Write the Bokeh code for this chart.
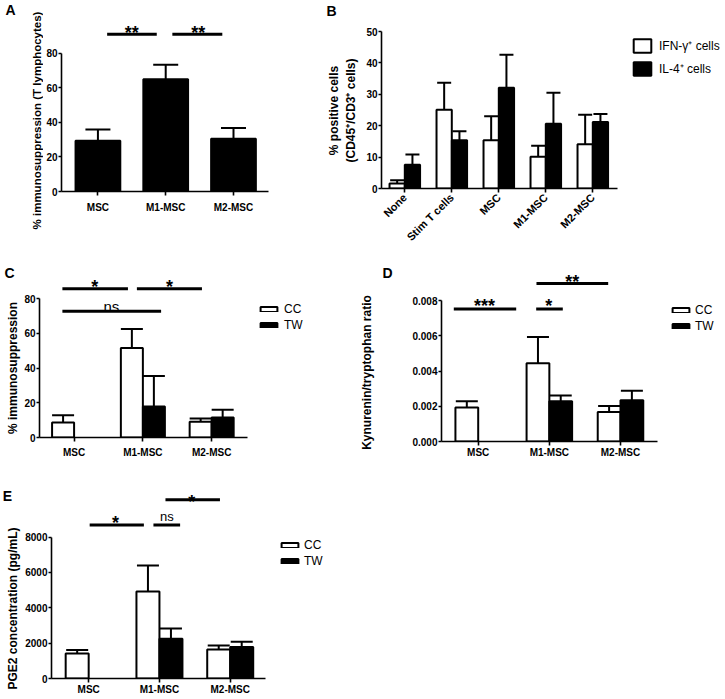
import numpy as np
from bokeh.plotting import figure
from bokeh.models import (Range1d, FixedTicker, NumeralTickFormatter, Legend,
                          LegendItem, Whisker, TeeHead, ColumnDataSource)
from bokeh.layouts import column, row
from bokeh.embed import file_html
from bokeh.resources import INLINE
from bokeh.core.properties import value

# ---------------- data ----------------
A_categories = ["MSC", "M1-MSC", "M2-MSC"]
A_mean = [29.3, 65.0, 30.5]
A_sem = [6.6, 8.3, 6.3]

B_categories = ["None", "Stim T cells", "MSC", "M1-MSC", "M2-MSC"]
B_series = ["IFN-γ⁺ cells", "IL-4⁺ cells"]
B_ifn_mean = [1.6, 25.1, 15.4, 10.1, 14.1]
B_ifn_sem = [1.0, 8.6, 7.6, 3.5, 9.4]
B_il4_mean = [7.6, 15.4, 32.1, 20.6, 21.2]
B_il4_sem = [3.2, 2.8, 10.5, 9.9, 2.5]

CDE_categories = ["MSC", "M1-MSC", "M2-MSC"]
CDE_series = ["CC", "TW"]

C_cc_mean = [8.7, 51.6, 9.1]
C_cc_sem = [4.2, 11.0, 1.9]
C_tw_mean = [np.nan, 17.9, 11.6]
C_tw_sem = [np.nan, 17.6, 4.4]

D_cc_mean = [0.00193, 0.00445, 0.00168]
D_cc_sem = [0.00035, 0.00149, 0.00034]
D_tw_mean = [np.nan, 0.00228, 0.00234]
D_tw_sem = [np.nan, 0.00034, 0.00054]

E_cc_mean = [1420, 4916, 1645]
E_cc_sem = [187, 1477, 224]
E_tw_mean = [np.nan, 2243, 1776]
E_tw_sem = [np.nan, 579, 299]

A_yticks = [0, 20, 40, 60, 80]
B_yticks = [0, 10, 20, 30, 40, 50]
C_yticks = [0, 20, 40, 60, 80]
D_yticks = [0, 0.002, 0.004, 0.006, 0.008]
E_yticks = [0, 2000, 4000, 6000, 8000]

# significance annotations: (x0, x1, y) lines and (x, y, text) labels, data units
A_sig_lines = [(0.136, 0.868, 91.0), (1.098, 1.835, 91.0)]
A_sig_text = [(0.498, 91.7, "**"), (1.479, 91.7, "**")]
C_sig_lines = [(-0.170, 0.783, 85.8), (0.913, 1.859, 85.8), (-0.170, 1.265, 72.85)]
C_sig_text = [(0.299, 86.9, "*"), (1.386, 86.9, "*")]
C_ns_text = [(0.541, 75.8, "ns")]
D_sig_lines = [(-0.343, 0.534, 0.007533), (0.815, 1.189, 0.007533), (0.819, 1.827, 0.008978)]
D_sig_text = [(0.0885, 0.00768, "***"), (0.992, 0.00768, "*"), (1.321, 0.009051, "**")]
E_sig_lines = [(0.014, 0.780, 8689), (0.915, 1.292, 8689), (1.085, 1.855, 10113)]
E_sig_text = [(0.380, 8818, "*"), (1.456, 9979, "*")]
E_ns_text = [(1.104, 9166, "ns")]

FONT = "Liberation Sans"


def make_panel(fx, fy, W, H, fl, fb, px0, sx, sy, x_axis_end_px, y_bound_top,
               cats, yticks, label_standoff=3, yfmt=None, orient=None, xlab_size="10px"):
    """fx,fy: figure origin (page px); fl: frame left; fb: frame bottom (y = 0)."""
    L = fl - fx
    B = fy + H - fb
    xr = ((fl - px0) / sx, (fx + W - px0) / sx)
    yr = (0, (fb - fy) / sy)
    p = figure(width=W, height=H, x_range=Range1d(*xr), y_range=Range1d(*yr),
               min_border_left=L, min_border_right=0, min_border_top=0,
               min_border_bottom=B, output_backend="svg", toolbar_location=None,
               frame_align=False)
    p.grid.visible = False
    p.outline_line_color = None
    p.background_fill_color = "white"
    p.border_fill_color = "white"
    ticks = list(range(len(cats)))
    p.xaxis.ticker = FixedTicker(ticks=ticks)
    p.xaxis.major_label_overrides = {t: c for t, c in zip(ticks, cats)}
    p.xaxis.bounds = (xr[0], (x_axis_end_px - px0) / sx)
    p.yaxis.ticker = FixedTicker(ticks=yticks)
    p.yaxis.bounds = (0, y_bound_top)
    if yfmt:
        p.yaxis.formatter = NumeralTickFormatter(format=yfmt)
    for ax in (p.xaxis[0], p.yaxis[0]):
        ax.axis_line_width = 1.6
        ax.axis_line_color = "black"
        ax.major_tick_line_width = 1.6
        ax.major_tick_line_color = "black"
        ax.major_tick_in = 0
        ax.minor_tick_line_color = None
        ax.major_label_text_font = FONT
        ax.major_label_text_font_size = "10px"
        ax.major_label_text_font_style = "bold"
        ax.major_label_text_color = "black"
    p.xaxis.major_tick_out = 4
    p.yaxis.major_tick_out = 3
    p.xaxis.major_label_text_font_size = xlab_size
    p.yaxis.major_label_standoff = 1
    p.xaxis.major_label_standoff = label_standoff
    if orient is not None:
        p.xaxis.major_label_orientation = orient
    return p


def make_text_fig(x0, x1, y0, y1):
    """A blank strip whose data coordinates are page pixels, for titles and panel letters."""
    p = figure(width=x1 - x0, height=y1 - y0, x_range=Range1d(x0, x1), y_range=Range1d(y1, y0),
               min_border=0, x_axis_location=None, y_axis_location=None,
               output_backend="svg", toolbar_location=None, frame_align=False)
    p.grid.visible = False
    p.outline_line_color = None
    p.background_fill_color = "white"
    p.border_fill_color = "white"
    return p


def add_text(p, x, y, text, size, angle=0.0, style="bold"):
    p.text(x=[x], y=[y], text=[text], angle=angle, text_font=value(FONT),
           text_font_style=style, text_font_size=size, text_align="center",
           text_baseline="middle", text_color="black")


def add_series(p, xs, mean, sem, w, fill, cap):
    m = np.asarray(mean, dtype=float)
    e = np.asarray(sem, dtype=float)
    ok = ~np.isnan(m)
    src = ColumnDataSource(dict(x=np.asarray(xs, float)[ok], top=m[ok], upper=(m + e)[ok]))
    r = p.vbar(x="x", top="top", width=w, bottom=0, source=src, fill_color=fill,
               line_color="black", line_width=2)
    p.add_layout(Whisker(source=src, base="x", lower="top", upper="upper",
                         line_color="black", line_width=2, lower_head=None,
                         upper_head=TeeHead(size=cap, line_color="black", line_width=2)))
    return r


def add_sig(p, lines, texts, ns=None, star_size="18px", ns_size="15px"):
    if lines:
        p.segment(x0=[l[0] for l in lines], x1=[l[1] for l in lines],
                  y0=[l[2] for l in lines], y1=[l[2] for l in lines],
                  line_color="black", line_width=3)
    if texts:
        p.text(x=[t[0] for t in texts], y=[t[1] for t in texts], text=[t[2] for t in texts],
               text_font=value(FONT), text_font_style="bold", text_font_size=star_size,
               text_align="center", text_baseline="alphabetic", text_color="black")
    if ns:
        p.text(x=[t[0] for t in ns], y=[t[1] for t in ns], text=[t[2] for t in ns],
               text_font=value(FONT), text_font_style="normal", text_font_size=ns_size,
               text_align="center", text_baseline="alphabetic", text_color="black")


def add_legend(p, rends, names, loc, gw, gh, lh, spacing, standoff, size="12px"):
    items = [LegendItem(label=value(n), renderers=[r]) for n, r in zip(names, rends)]
    lg = Legend(items=items, location=loc, glyph_width=gw, glyph_height=gh,
                label_height=lh, spacing=spacing, padding=0, margin=0,
                label_standoff=standoff, border_line_color=None,
                background_fill_alpha=0, label_text_font=FONT,
                label_text_font_size=size, label_text_color="black")
    p.add_layout(lg)


# ---------------- Row 1: panels A and B ----------------
tA = make_text_fig(0, 43, 0, 250)
add_text(tA, 10, 9, "A", "14px")
add_text(tA, 36, 120, "% immunosuppression (T lymphocytes)", "11.5px", np.pi / 2)

pA = make_panel(43, 0, 282, 250, 59, 191, 95.7, 68.3, 1.72875, 268, 80,
                A_categories, A_yticks, label_standoff=6)
idxA = np.arange(len(A_categories))
add_series(pA, idxA, A_mean, A_sem, 0.66, "black", 25)
add_sig(pA, A_sig_lines, A_sig_text)

tB = make_text_fig(325, 360, 0, 250)
add_text(tB, 331, 10, "B", "14px")
add_text(tB, 333, 110, "% positive cells", "12px", np.pi / 2)
add_text(tB, 350, 110, "(CD45⁺/CD3⁺ cells)", "12px", np.pi / 2)

pB = make_panel(360, 0, 362, 250, 381, 188, 404.3, 47, 3.14, 616.7, 50,
                B_categories, B_yticks, label_standoff=3, orient=np.pi / 4, xlab_size="11px")
idxB = np.arange(len(B_categories))
wB = 0.325
r1 = add_series(pB, idxB - wB / 2, B_ifn_mean, B_ifn_sem, wB, "white", 14)
r2 = add_series(pB, idxB + wB / 2, B_il4_mean, B_il4_sem, wB, "black", 14)
add_legend(pB, [r1, r2], B_series, (250, 111), 22, 17, 17, 6, 6)

# ---------------- Row 2: panels C and D ----------------
tC = make_text_fig(0, 21, 250, 460)
add_text(tC, 9, 272, "C", "14px")
add_text(tC, 12, 367.5, "% immunosuppression", "12px", np.pi / 2)

pC = make_panel(21, 250, 334, 210, 38, 437, 72.7, 69, 1.73375, 246.7, 80,
                CDE_categories, C_yticks, label_standoff=5)
idxC = np.arange(len(CDE_categories))
wC = 0.32
c1 = add_series(pC, idxC - wC / 2, C_cc_mean, C_cc_sem, wC, "white", 22)
c2 = add_series(pC, idxC + wC / 2, C_tw_mean, C_tw_sem, wC, "black", 22)
add_sig(pC, C_sig_lines, C_sig_text, C_ns_text, ns_size="15px")
add_legend(pC, [c1, c2], CDE_series, (219, 105.5), 21, 6, 14, 2, 5)

tD = make_text_fig(355, 400, 250, 460)
add_text(tD, 366, 372, "Kynurenin/tryptophan ratio", "12px", np.pi / 2)
add_text(tD, 387, 272, "D", "14px")

pD = make_panel(400, 250, 322, 210, 441, 443, 477.7, 71.15, 17787.5, 656.7, 0.008,
                CDE_categories, D_yticks, label_standoff=1, yfmt="0.000")
idxD = np.arange(len(CDE_categories))
wD = 0.32
d1 = add_series(pD, idxD - wD / 2, D_cc_mean, D_cc_sem, wD, "white", 22)
d2 = add_series(pD, idxD + wD / 2, D_tw_mean, D_tw_sem, wD, "black", 22)
add_sig(pD, D_sig_lines, D_sig_text)
add_legend(pD, [d1, d2], CDE_series, (229, 108), 21, 6, 14, 2, 4)

# ---------------- Row 3: panel E ----------------
tE = make_text_fig(0, 22, 460, 697)
add_text(tE, 7, 495, "E", "14px")
add_text(tE, 12, 608, "PGE2 concentration (pg/mL)", "12px", np.pi / 2)

pE = make_panel(22, 460, 338, 237, 50, 680, 87.3, 71, 0.0178375, 265, 8000,
                CDE_categories, E_yticks, label_standoff=1, yfmt="0")
idxE = np.arange(len(CDE_categories))
wE = 0.325
e1 = add_series(pE, idxE - wE / 2, E_cc_mean, E_cc_sem, wE, "white", 22)
e2 = add_series(pE, idxE + wE / 2, E_tw_mean, E_tw_sem, wE, "black", 22)
add_sig(pE, E_sig_lines, E_sig_text, E_ns_text, ns_size="13px")
add_legend(pE, [e1, e2], CDE_series, (228, 110), 21, 6, 14, 2, 4)

layout = column(row(tA, pA, tB, pB), row(tC, pC, tD, pD), row(tE, pE))

open("out.html", "w").write(file_html(layout, INLINE, title="MSC panels"))
